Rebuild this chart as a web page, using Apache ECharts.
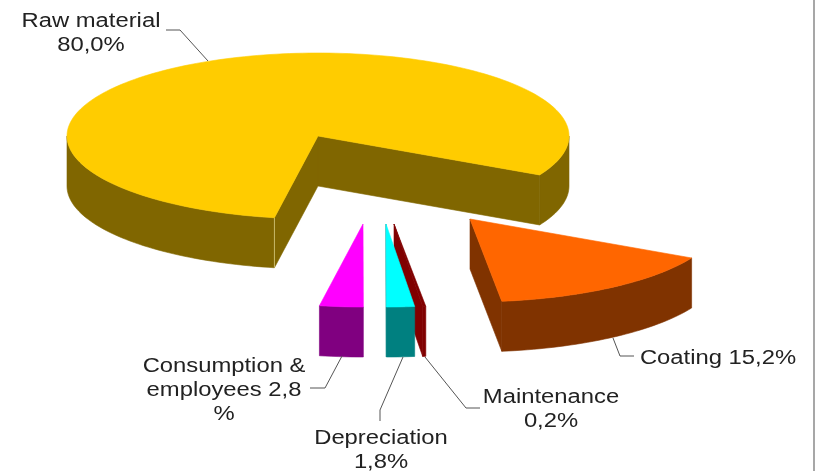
<!DOCTYPE html>
<html>
<head>
<meta charset="utf-8">
<style>html,body{margin:0;padding:0;background:#fff}#c{width:816px;height:471px}</style>
<script src="https://cdn.jsdelivr.net/npm/echarts@6/dist/echarts.min.js"></script>
</head>
<body>
<div id="c"></div>
<script>
// Data, in clockwise drawing order
var categories = ['Raw material', 'Coating', 'Maintenance', 'Depreciation', 'Consumption & employees'];
var shares = [80.0, 15.2, 0.2, 1.8, 2.8];
var labels = ['Raw material\n80,0%', 'Coating 15,2%', 'Maintenance\n0,2%', 'Depreciation\n1,8%', 'Consumption &\nemployees 2,8\n%'];
var topColors = ['#FFCC00', '#FF6600', '#800000', '#00FFFF', '#FF00FF'];
var sideColors = ['#806600', '#803300', '#800000', '#008080', '#800080'];

// Layout (projection of the tilted disc)
var firstAngle = 100.0, rx = 251, ry = 83, depth = 50;
var apexes = [[318, 136], [470, 219], [394, 224], [386, 224], [363, 224]];
var labelPos = [[91, 33], [718, 358], [551, 409], [381, 450], [224, 390]];
var leaders = [
  [[166, 30], [180, 30], [208, 61]],
  [[613, 338], [620, 356], [634, 356]],
  [[425, 357], [466, 408], [480, 408]],
  [[403, 357], [380, 410], [380, 421]],
  [[310, 388], [325, 388], [342, 356]]
];

function pt(apex, deg, dz) {
  var a = deg * Math.PI / 180;
  return [apex[0] + rx * Math.cos(a), apex[1] + ry * Math.sin(a) + (dz || 0)];
}
function arc(apex, from, to, dz) {
  var out = [], n = Math.max(2, Math.ceil(Math.abs(to - from) / 1.5));
  for (var i = 0; i <= n; i++) out.push(pt(apex, from + (to - from) * i / n, dz));
  return out;
}
function poly(points, fill, stroke) {
  return { type: 'polygon', shape: { points: points }, style: { fill: fill, stroke: stroke || fill, lineWidth: 0.6 } };
}
function wedgeStart(i) {
  var s = firstAngle;
  for (var k = 0; k < i; k++) s += shares[k] * 3.6;
  return s;
}
function renderSlice(params, api) {
  var i = params.dataIndex, share = api.value(1);
  var s = wedgeStart(i), e = s + share * 3.6;
  var A = apexes[i], A2 = [A[0], A[1] + depth], kids = [];
  var side = sideColors[i], top = topColors[i];
  // cut faces that look towards the viewer
  if (Math.cos(s * Math.PI / 180) < 0) {
    kids.push(poly([A, pt(A, s), pt(A, s, depth), A2], side));
  }
  if (Math.cos(e * Math.PI / 180) > 0) {
    kids.push(poly([A, pt(A, e), pt(A, e, depth), A2], side));
  }
  // outer rim, front half only
  [[0, 180], [360, 540]].forEach(function (r) {
    var a = Math.max(s, r[0]), b = Math.min(e, r[1]);
    if (b > a) {
      kids.push(poly(arc(A, a, b).concat(arc(A, b, a, depth)), side));
    }
  });
  // light corner on the long slice
  if (share > 50) {
    var c0 = pt(A, s), c1 = pt(A, s, depth);
    kids.push({ type: 'line', shape: { x1: c0[0], y1: c0[1], x2: c1[0], y2: c1[1] }, style: { stroke: '#C9BA6A', lineWidth: 1 } });
  }
  // top face
  kids.push(poly([A].concat(arc(A, s, e)), top));
  // leader and label
  kids.push({ type: 'polyline', shape: { points: leaders[i] }, style: { fill: null, stroke: '#555555', lineWidth: 1 } });
  var lp = labelPos[i];
  kids.push({ type: 'text', x: lp[0], y: lp[1], scaleX: 1.19, style: {
    text: labels[i], fill: '#222222', font: '20px "Liberation Sans", Arial, sans-serif',
    align: 'center', verticalAlign: 'middle', lineHeight: 24
  } });
  return { type: 'group', children: kids };
}

var chart = echarts.init(document.getElementById('c'), null, { renderer: 'canvas' });
chart.setOption({
  animation: false,
  backgroundColor: '#ffffff',
  graphic: [{ type: 'line', shape: { x1: 814, y1: 0, x2: 814, y2: 471 }, style: { stroke: '#8a8a8a', lineWidth: 1.5 } }],
  series: [{
    type: 'custom',
    coordinateSystem: 'none',
    renderItem: renderSlice,
    encode: { value: 1 },
    data: categories.map(function (c, i) { return [c, shares[i]]; })
  }]
});
</script>
</body>
</html>
